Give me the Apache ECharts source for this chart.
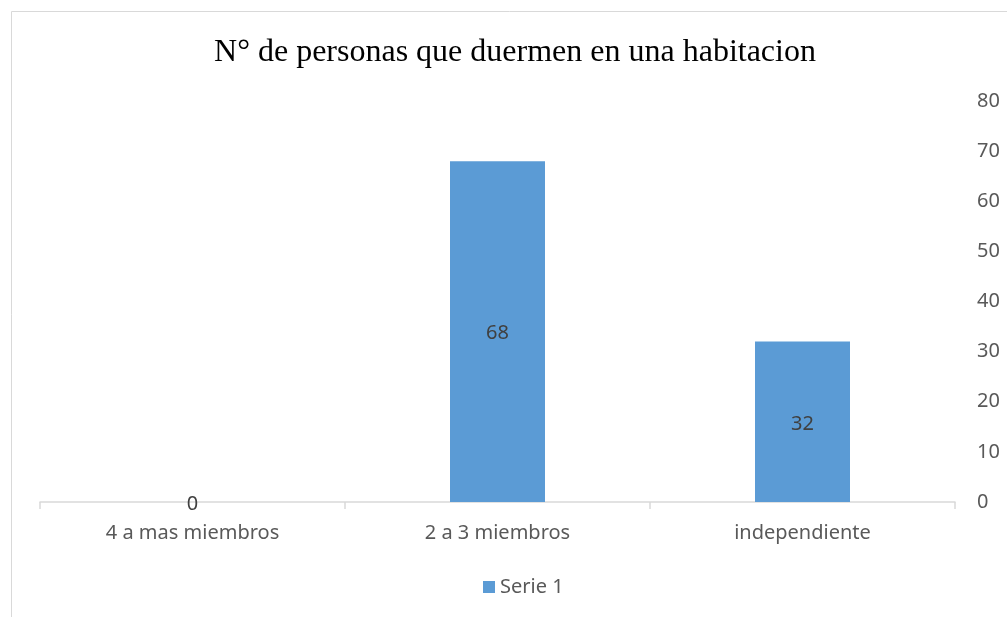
<!DOCTYPE html>
<html>
<head>
<meta charset="utf-8">
<script src="https://cdn.jsdelivr.net/npm/echarts@6/dist/echarts.min.js"></script>
<style>
  html, body { margin: 0; padding: 0; background: #fff; }
  #chart { width: 1007px; height: 617px; }
</style>
</head>
<body>
<div id="chart"></div>
<script>
const categories = ['4 a mas miembros', '2 a 3 miembros', 'independiente']
const serieValues = [0, 68, 32]
const serieName = 'Serie 1'
const titleText = 'N° de personas que duermen en una habitacion'

const chart = echarts.init(document.getElementById('chart'))
const labelFont = 'Noto Sans, sans-serif'

chart.setOption({
  animation: false,
  graphic: [{
    type: 'rect',
    shape: { x: 11.5, y: 11.5, width: 1020, height: 640 },
    style: { fill: 'none', stroke: '#d9d9d9', lineWidth: 1 },
    silent: true
  }],
  title: {
    text: titleText,
    left: 510,
    top: 32,
    textAlign: 'center',
    textStyle: {
      fontFamily: 'Liberation Serif, Times New Roman, serif',
      fontSize: 32,
      fontWeight: 'normal',
      color: '#000'
    }
  },
  legend: {
    data: [serieName],
    bottom: 15,
    left: 478,
    itemWidth: 12,
    itemHeight: 12,
    itemGap: 6,
    icon: 'rect',
    textStyle: { fontFamily: labelFont, fontSize: 20, color: '#595959' }
  },
  grid: {
    left: 40,
    right: 52,
    top: 101,
    bottom: 115,
    containLabel: false
  },
  xAxis: {
    type: 'category',
    data: categories,
    axisLine: { lineStyle: { color: '#d9d9d9', width: 1.5 } },
    axisTick: { show: true, length: 7, lineStyle: { color: '#d9d9d9', width: 1.5 } },
    axisLabel: { fontFamily: labelFont, fontSize: 20, color: '#595959', margin: 21 }
  },
  yAxis: {
    type: 'value',
    position: 'right',
    min: 0,
    max: 80,
    interval: 10,
    axisLine: { show: false },
    axisTick: { show: false },
    splitLine: { show: false },
    axisLabel: { fontFamily: labelFont, fontSize: 20, color: '#595959', margin: 22, align: 'left' }
  },
  series: [{
    name: serieName,
    type: 'bar',
    data: serieValues,
    barWidth: 95,
    itemStyle: { color: '#5b9bd5' },
    label: {
      show: true,
      position: 'inside',
      offset: [0, 2],
      fontFamily: labelFont,
      fontSize: 20,
      color: '#404040'
    }
  }]
})
</script>
</body>
</html>
